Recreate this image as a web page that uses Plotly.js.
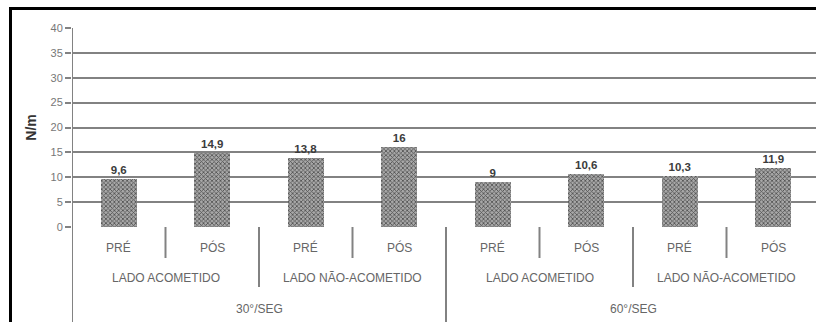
<!DOCTYPE html>
<html>
<head>
<meta charset="utf-8">
<script src="https://cdn.plot.ly/plotly-3.0.1.min.js"></script>
<style>
  html, body { margin: 0; padding: 0; background: #fff; overflow: hidden; }
  #wrap { position: relative; width: 816px; height: 322px; overflow: hidden; }
  #frame { position: absolute; left: 9px; top: 7px; width: 820px; height: 330px;
           border-top: 3px solid #000; border-left: 3px solid #000; pointer-events: none; }
  #chart { position: absolute; left: 0; top: 0; }
</style>
</head>
<body>
<div id="wrap">
  <div id="chart"></div>
  <div id="frame"></div>
</div>
<script>
// Torque values (N/m) per condition
const phase = ['PRÉ', 'PÓS', 'PRÉ', 'PÓS', 'PRÉ', 'PÓS', 'PRÉ', 'PÓS'];
const side = ['LADO ACOMETIDO', 'LADO NÃO-ACOMETIDO', 'LADO ACOMETIDO', 'LADO NÃO-ACOMETIDO'];
const speed = ['30°/SEG', '60°/SEG'];
const values = [9.6, 14.9, 13.8, 16, 9, 10.6, 10.3, 11.9];
const yTicks = [0, 5, 10, 15, 20, 25, 30, 35, 40];

const idx = values.map((_, i) => i);
const txtColor = '#666';
const lineColor = '#828282';

// Plot area height in px, used to place the multi-level labels below the axis
const plotH = 199;
const px = p => -p / plotH;

const annotations = [];
const shapes = [];

phase.forEach((t, i) => annotations.push({
  x: i, y: px(21), xref: 'x', yref: 'paper', text: t, showarrow: false,
  yanchor: 'middle', font: { size: 12, color: txtColor }
}));
side.forEach((t, g) => annotations.push({
  x: g * 2 + 0.5, y: px(51), xref: 'x', yref: 'paper', text: t, showarrow: false,
  yanchor: 'middle', font: { size: 12, color: txtColor }
}));
speed.forEach((t, g) => annotations.push({
  x: g * 4 + 1.5, y: px(82), xref: 'x', yref: 'paper', text: t, showarrow: false,
  yanchor: 'middle', font: { size: 12, color: txtColor }
}));

// Category dividers below the axis: short between phases, longer between sides, full between speeds
for (let b = 0; b < phase.length - 1; b++) {
  const x = b + 0.5;
  let depth = 31;
  if ((b + 1) % 4 === 0) depth = 100;
  else if ((b + 1) % 2 === 0) depth = 60;
  shapes.push({
    type: 'line', xref: 'x', yref: 'paper', x0: x, x1: x, y0: 0, y1: px(depth),
    line: { color: lineColor, width: 2 }
  });
}
// Left axis line running down through the label rows
shapes.push({
  type: 'line', xref: 'x', yref: 'paper', x0: -0.5, x1: -0.5, y0: 1, y1: px(100),
  line: { color: lineColor, width: 2 }
});

const trace = {
  type: 'bar',
  x: idx,
  y: values,
  width: 0.39,
  marker: {
    color: '#8a8a8a',
    line: { width: 0 },
    pattern: { shape: 'x', size: 3, solidity: 0.45, fgcolor: '#4e4e4e', bgcolor: '#a8a8a8' }
  },
  text: values,
  texttemplate: '%{y}',
  textposition: 'outside',
  textfont: { size: 11.5, color: '#3c3c3c', weight: 'bold' },
  cliponaxis: false,
  hoverinfo: 'skip'
};

const layout = {
  width: 820,
  height: 322,
  margin: { l: 72, r: 0, t: 28, b: 95 },
  paper_bgcolor: '#fff',
  plot_bgcolor: '#fff',
  separators: ',.',
  font: { family: 'Liberation Sans, Arial, sans-serif' },
  showlegend: false,
  bargap: 0,
  xaxis: {
    range: [-0.5, 7.5],
    showticklabels: false,
    showgrid: false,
    zeroline: false,
    showline: false,
    ticks: ''
  },
  yaxis: {
    range: [0, 40],
    tickvals: yTicks,
    ticktext: yTicks.map(String),
    showgrid: true,
    gridcolor: lineColor,
    gridwidth: 2,
    zeroline: false,
    showline: false,
    ticks: 'outside',
    ticklen: 6,
    tickwidth: 2,
    tickcolor: lineColor,
    tickfont: { size: 11, color: '#777' },
    title: { text: 'N/m', font: { size: 14, color: '#333', weight: 'bold' }, standoff: 10 }
  },
  annotations: annotations,
  shapes: shapes
};

Plotly.newPlot('chart', [trace], layout, { staticPlot: true, displayModeBar: false });
</script>
</body>
</html>
